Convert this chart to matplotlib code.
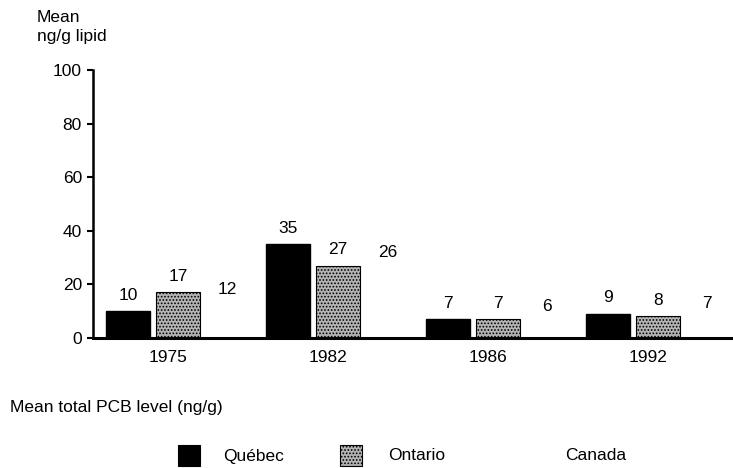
import numpy as np
import matplotlib
matplotlib.use("Agg")
import matplotlib.pyplot as plt
from matplotlib.patches import Rectangle

plt.rcParams['font.family'] = ['Liberation Sans', 'DejaVu Sans']
plt.rcParams['hatch.color'] = '#555555'
plt.rcParams['hatch.linewidth'] = 0.8

years = ['1975', '1982', '1986', '1992']
quebec = [10, 35, 7, 9]
ontario = [17, 27, 7, 8]
canada = [12, 26, 6, 7]
series_names = ['Québec', 'Ontario', 'Canada']

fs = 12.5
fig = plt.figure(figsize=(7.33, 4.68), dpi=100)
ax = fig.add_axes([0.127, 0.278, 0.873, 0.572])

x = np.arange(len(years))
w = 0.275
step = 0.31

b1 = ax.bar(x - step, quebec, w, color='black', edgecolor='black')
b2 = ax.bar(x, ontario, w, color='#b4b4b4', edgecolor='black', linewidth=0.8, hatch='.....')
b3 = ax.bar(x + step, canada, w, color='white', edgecolor='white')

for bars, vals in [(b1, quebec), (b2, ontario), (b3, canada)]:
    for rect, v in zip(bars, vals):
        ax.annotate(str(v), (rect.get_x() + rect.get_width() / 2, v),
                    xytext=(0, 6), textcoords='offset points',
                    ha='center', va='bottom', fontsize=fs)

ax.set_xlim(-0.53, 3.47)
ax.set_ylim(0, 100)
ax.set_yticks([0, 20, 40, 60, 80, 100])
ax.set_xticks(x - 0.06)
ax.set_xticklabels(years)
ax.tick_params(axis='x', length=0, pad=9, labelsize=fs)
ax.tick_params(axis='y', length=4, width=1.5, direction='out', labelsize=fs, pad=4)
for s in ['top', 'right']:
    ax.spines[s].set_visible(False)
ax.spines['left'].set_linewidth(1.8)
ax.spines['bottom'].set_linewidth(2.2)

fig.text(0.05, 0.905, 'Mean\nng/g lipid', fontsize=fs, ha='left', va='bottom', linespacing=1.4)
fig.text(0.013, 0.13, 'Mean total PCB level (ng/g)', fontsize=fs, ha='left', va='center')

# legend drawn by hand to match the spacing of the original
W, H = 733, 468
legend_items = [(178, 'black', 'black', None, 223),
                (340, '#b4b4b4', 'black', '.....', 388),
                (520, 'white', 'white', None, 565)]
for name, (px, fc, ec, hatch, tx) in zip(series_names, legend_items):
    fig.add_artist(Rectangle((px / W, 1 - 466 / H), 22 / W, 21 / H,
                             facecolor=fc, edgecolor=ec, hatch=hatch,
                             linewidth=0.8, transform=fig.transFigure))
    fig.text(tx / W, 1 - 456 / H, name, fontsize=fs, ha='left', va='center')

fig.savefig('out.png', dpi=100)
